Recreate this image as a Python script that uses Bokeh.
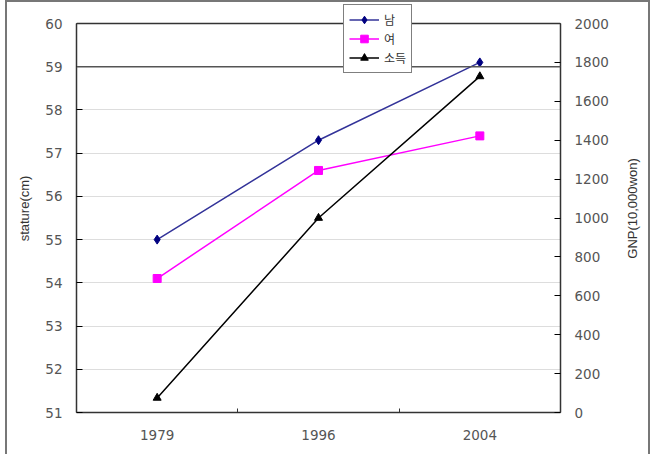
from bokeh.plotting import figure
from bokeh.layouts import row
from bokeh.models import Range1d, LinearAxis, FixedTicker, Span, Legend, Title
from bokeh.embed import file_html
from bokeh.resources import INLINE

years = ["1979", "1996", "2004"]
male = [55.0, 57.3, 59.1]
female = [54.1, 56.6, 57.4]
gnp = [75, 1000, 1728]
left_ticks = [51, 52, 53, 54, 55, 56, 57, 58, 59, 60]
right_ticks = [0, 200, 400, 600, 800, 1000, 1200, 1400, 1600, 1800, 2000]

xs = [i + 0.5 for i in range(len(years))]

TICK_FONT = "DejaVu Sans"
FONT = "Liberation Sans"
W, H = 615, 452
TOP, BOTTOM = 2, 42
DATA_TOP = 21  # canvas pixel where the axes end (60 / 2000)
data_h = H - BOTTOM - DATA_TOP
extra = (DATA_TOP - TOP) / data_h

p = figure(width=W, height=H, output_backend="svg", toolbar_location=None,
           x_range=Range1d(0, 3), y_range=Range1d(51, 60 + 9 * extra),
           min_border_left=69, min_border_right=62, min_border_top=TOP, min_border_bottom=BOTTOM,
           x_axis_location=None, y_axis_location=None)
p.extra_y_ranges = {"gnp": Range1d(0, 2000 + 2000 * extra)}
p.outline_line_color = None
p.background_fill_color = "white"
p.border_fill_color = "white"

def style_axis(ax):
    ax.axis_line_color = "#333333"
    ax.axis_line_width = 1.5
    ax.major_tick_in = 6
    ax.major_tick_out = 0
    ax.minor_tick_line_color = None
    ax.major_label_text_font = TICK_FONT
    ax.major_label_text_font_size = "13.5px"
    ax.major_label_text_color = "#555555"
    ax.axis_label_text_font = FONT
    ax.axis_label_text_font_size = "13px"
    ax.axis_label_text_font_style = "normal"
    ax.axis_label_text_color = "#333333"

yl = LinearAxis(ticker=FixedTicker(ticks=left_ticks), axis_label="stature(cm)", bounds=(51, 60))
style_axis(yl)
yl.major_label_standoff = 14
yl.axis_label_standoff = 10
p.add_layout(yl, "left")

yr = LinearAxis(y_range_name="gnp", ticker=FixedTicker(ticks=right_ticks), bounds=(0, 2000))
style_axis(yr)
yr.major_label_standoff = 14
p.add_layout(yr, "right")

xa = LinearAxis(ticker=FixedTicker(ticks=xs, minor_ticks=[1, 2]))
style_axis(xa)
xa.major_tick_line_color = None
xa.minor_tick_line_color = "#333333"
xa.minor_tick_in = 4
xa.minor_tick_out = 0
xa.major_label_overrides = {x: y for x, y in zip(xs, years)}
xa.major_label_standoff = 17
p.add_layout(xa, "below")

p.xgrid.visible = False
p.ygrid.ticker = FixedTicker(ticks=left_ticks[:-1])
p.ygrid.grid_line_color = "#dddddd"

p.add_layout(Span(location=60, dimension="width", line_color="#333333", line_width=1.5))
p.add_layout(Span(location=59, dimension="width", line_color="#555555", line_width=1.5))

r1 = p.line(xs, male, line_color="#333399", line_width=1.5)
m1 = p.scatter(xs, male, marker="diamond", size=9, fill_color="#000080", line_color="#000080")
r2 = p.line(xs, female, line_color="#FF00FF", line_width=1.5)
m2 = p.scatter(xs, female, marker="square", size=8, fill_color="#FF00FF", line_color="#FF00FF")
r3 = p.line(xs, gnp, line_color="#000000", line_width=1.5, y_range_name="gnp")
m3 = p.scatter(xs, gnp, marker="triangle", size=8, fill_color="#000000", line_color="#000000", y_range_name="gnp")

legend = Legend(items=[("남", [r1, m1]), ("여", [r2, m2]), ("소득", [r3, m3])],
                location=(267, 339))
legend.label_text_font = "Noto Sans CJK KR"
legend.label_text_font_size = "12px"
legend.label_text_color = "#333333"
legend.glyph_width = 30
legend.glyph_height = 19
legend.label_height = 19
legend.spacing = 0
legend.padding = 5
legend.margin = 0
legend.border_line_color = "#000000"
legend.border_line_width = 1
legend.background_fill_alpha = 1
legend.label_standoff = 5
p.add_layout(legend, "center")

# narrow companion figure carrying the right-hand axis title, reading bottom to top
p2 = figure(width=641 - W, height=H, output_backend="svg", toolbar_location=None,
            x_range=Range1d(0, 1), y_range=Range1d(0, 1), title=None,
            min_border_left=0, min_border_right=0, min_border_top=0, min_border_bottom=36,
            x_axis_location=None, y_axis_location=None)
p2.outline_line_color = None
p2.background_fill_color = "white"
p2.border_fill_color = "white"
p2.xgrid.visible = False
p2.ygrid.visible = False
p2.add_layout(Title(text="GNP(10,000won)", align="center", text_font=FONT,
                    text_font_size="13px", text_font_style="normal", text_color="#333333",
                    standoff=0), "left")

layout = row(p, p2, spacing=0,
             styles={"margin-left": "5px", "border-left": "2px solid #777",
                     "border-right": "2px solid #777", "border-top": "2px solid #777"})

open("out.html", "w").write(file_html(layout, INLINE))
